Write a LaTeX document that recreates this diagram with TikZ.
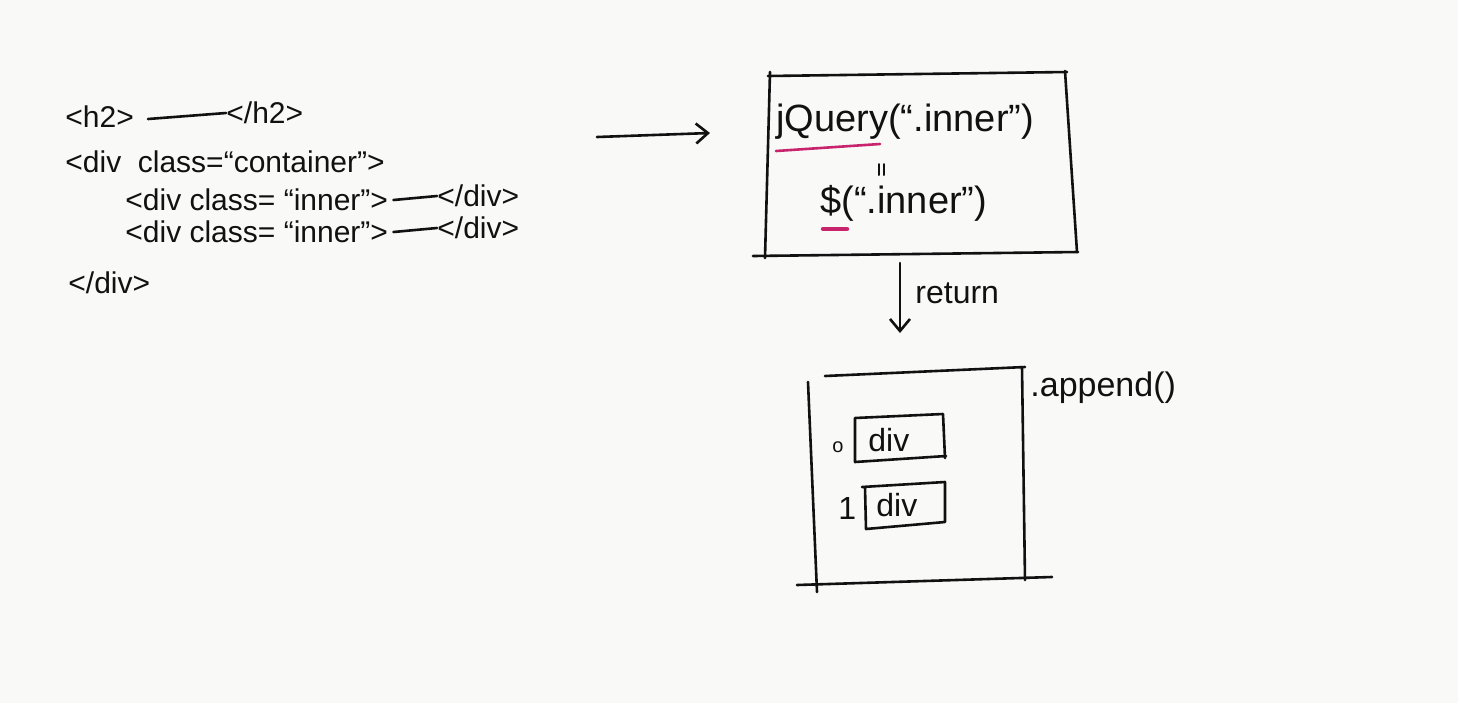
\documentclass[tikz,border=0pt]{standalone}
\usepackage{fontspec}
\setmainfont{Liberation Sans}
\usetikzlibrary{arrows.meta}
\definecolor{paper}{HTML}{F9F9F8}
\definecolor{ink}{HTML}{111111}
\definecolor{marker}{HTML}{C8246E}
\tikzset{
  pen/.style={draw=ink, line width=1.3pt, line cap=round, line join=round},
  hl/.style={draw=marker, line width=1.3pt, line cap=round},
  code/.style={anchor=west, inner sep=0pt, text=ink, font=\fontsize{15}{18}\selectfont},
  big/.style={anchor=west, inner sep=0pt, text=ink, font=\fontsize{19}{22}\selectfont},
  mid/.style={anchor=west, inner sep=0pt, text=ink, font=\fontsize{16}{19}\selectfont},
  tip/.style={-{Straight Barb[length=6pt,width=10pt]}}
}
\begin{document}
\begin{tikzpicture}[x=0.5pt,y=-0.5pt]
\useasboundingbox (0,0) rectangle (1458,703);
\fill[paper] (0,0) rectangle (1458,703);

% HTML source
\node[code] (h2o) at (65,117) {<h2>};
\node[code] (h2c) at (226,113) {</h2>};
\draw[pen] (148,119) -- (h2c.west);
\node[code] (cont) at (65,162) {<div\ \ class=``container''>};
\node[code] (in1) at (125,200) {<div class= ``inner''>};
\node[code] (in1c) at (437,196) {</div>};
\draw[pen] (in1.east) ++(5,0) -- (in1c.west);
\node[code] (in2) at (125,232) {<div class= ``inner''>};
\node[code] (in2c) at (437,228) {</div>};
\draw[pen] (in2.east) ++(5,0) -- (in2c.west);
\node[code] (contc) at (68,283) {</div>};

% selector box
\coordinate (a0) at (597,137);
\coordinate (a1) at (710,133);
\draw[pen,tip] (a0) -- (a1);
\draw[pen] (768,76) -- (1067,72);
\draw[pen] (770,72) -- (765,258);
\draw[pen] (1065,71) -- (1077,252);
\draw[pen] (753,256) -- (1078,252);
\node[big] (jq) at (776,122) {jQuery(``.inner'')};
\draw[hl] (776,151) -- (880,144);
\draw[pen, line width=1pt] (879,164) -- (879,175) (884,164) -- (884,175);
\node[big] (dollar) at (820,203) {\$(``.inner'')};
\draw[hl, line width=2.2pt] (823,229) -- (847,229);

% returned collection
\coordinate (r0) at (900,263);
\coordinate (r1) at (900,333);
\draw[pen,tip] (r0) -- (r1);
\node[mid] (ret) at (915,293) {return};
\draw[pen] (825,376) -- (1025,367);
\draw[pen] (808,382) -- (817,592);
\draw[pen] (1022,367) -- (1025,580);
\draw[pen] (797,585) -- (1052,577);
\node[mid, font=\fontsize{17}{20}\selectfont] (app) at (1030,388) {.append()};

\node[mid] (i0) at (832,447) {\fontsize{10}{11}\selectfont o};
\draw[pen] (855,418) -- (943,414) -- (945,458) (855,418) -- (855,462) -- (946,456);
\node[mid] (d0) at (868,440) {div};
\node[mid] (i1) at (838,508) {1};
\draw[pen] (862,487) -- (945,482) -- (945,522) -- (866,529) -- (865,487);
\node[mid] (d1) at (876,505) {div};
\end{tikzpicture}
\end{document}
